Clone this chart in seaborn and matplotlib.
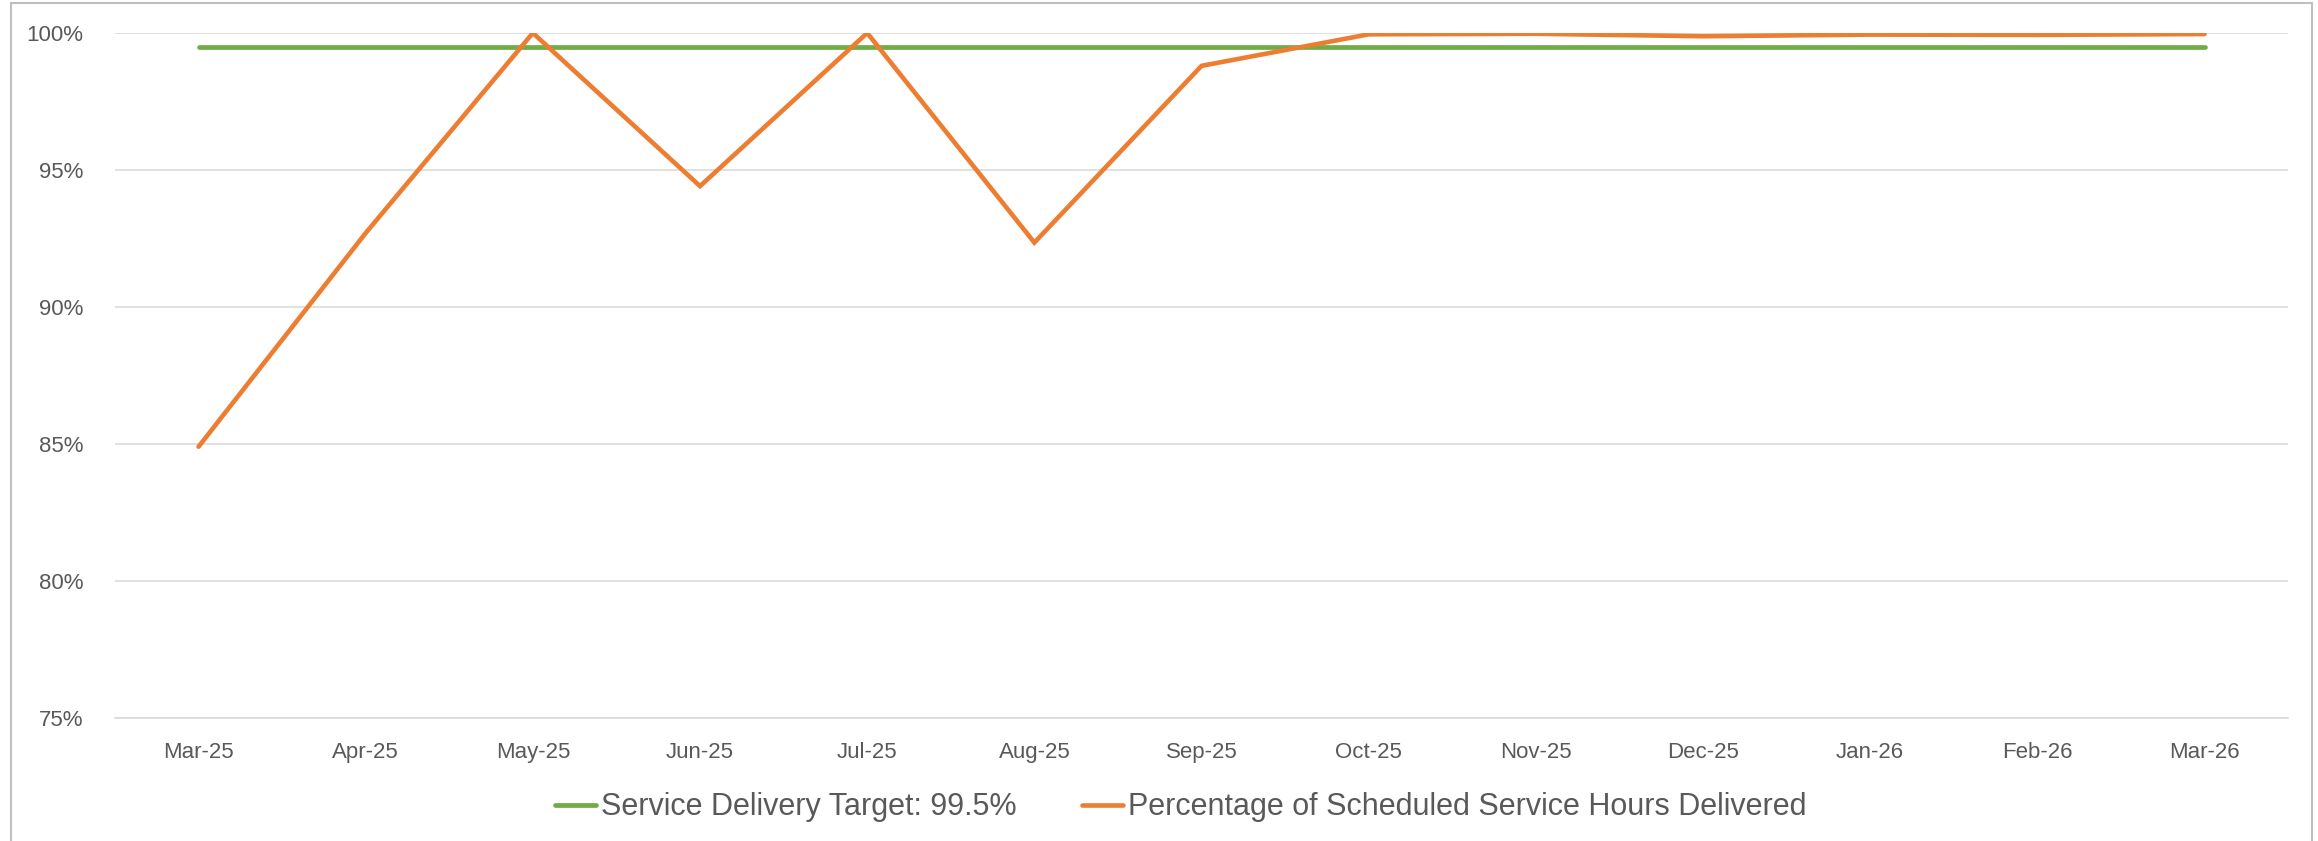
"""Scheduled service hours delivered vs. service delivery target."""
import matplotlib
matplotlib.use("Agg")
import matplotlib.pyplot as plt
import numpy as np
import pandas as pd
import seaborn as sns
from matplotlib.patches import Rectangle
from matplotlib.ticker import FuncFormatter

sns.set_theme(style="white")
plt.rcParams["font.family"] = ["Liberation Sans", "DejaVu Sans"]

months = ["Mar-25", "Apr-25", "May-25", "Jun-25", "Jul-25", "Aug-25", "Sep-25",
          "Oct-25", "Nov-25", "Dec-25", "Jan-26", "Feb-26", "Mar-26"]
delivered = [84.90, 92.70, 100.00, 94.41, 100.00, 92.35, 98.80,
             99.95, 99.97, 99.88, 99.94, 99.93, 99.96]
target = [99.5] * len(months)

target_label = "Service Delivery Target: 99.5%"
delivered_label = "Percentage of Scheduled Service Hours Delivered"

GREEN = "#70AD47"
ORANGE = "#ED7D31"
GRID = "#D9D9D9"
TEXT = "#595959"

df = pd.DataFrame({"month": months, "target": target, "delivered": delivered})

fig = plt.figure(figsize=(23.18, 8.41), dpi=100)
ax = fig.add_axes([0.0496, 0.1463, 0.9375, 0.8145])

sns.lineplot(data=df, x="month", y="target", ax=ax, color=GREEN, linewidth=3.4,
             label=target_label, solid_capstyle="round")
sns.lineplot(data=df, x="month", y="delivered", ax=ax, color=ORANGE, linewidth=3.3,
             label=delivered_label, solid_capstyle="round", solid_joinstyle="miter")

ax.set_xlim(-0.5, len(months) - 0.5)
ax.set_ylim(75, 100)
ax.set_yticks(np.arange(75, 101, 5))
ax.yaxis.set_major_formatter(FuncFormatter(lambda v, _: f"{v:.0f}%"))
ax.set_xlabel("")
ax.set_ylabel("")

ax.grid(axis="y", color=GRID, linewidth=1.1)
ax.set_axisbelow(True)
for side in ["left", "right", "top"]:
    ax.spines[side].set_visible(False)
ax.spines["bottom"].set_color(GRID)
ax.spines["bottom"].set_linewidth(1.1)

# category boundaries carry the little tick marks, like the Excel original
ax.set_xticks(np.arange(-0.5, len(months)), minor=True)
ax.tick_params(axis="x", which="minor", length=6, width=1.1, color=GRID, direction="out")
ax.tick_params(axis="x", which="major", length=0, pad=17, labelsize=16, labelcolor=TEXT)
ax.tick_params(axis="y", length=0, pad=23, labelsize=16, labelcolor=TEXT)

handles, labels = ax.get_legend_handles_labels()
ax.legend(handles, labels, loc="center", bbox_to_anchor=(0.5093, 0.040),
          bbox_transform=fig.transFigure, ncol=2, frameon=False, fontsize=22,
          handlelength=1.34, handletextpad=0.16, columnspacing=2.15, labelcolor=TEXT)

fig.patches.append(Rectangle((11 / 2318, -0.01), 2301 / 2318, 1.01 - 3 / 841,
                             transform=fig.transFigure, fill=False,
                             edgecolor="#BFBFBF", linewidth=1.5))

fig.savefig("out.png", dpi=100)
